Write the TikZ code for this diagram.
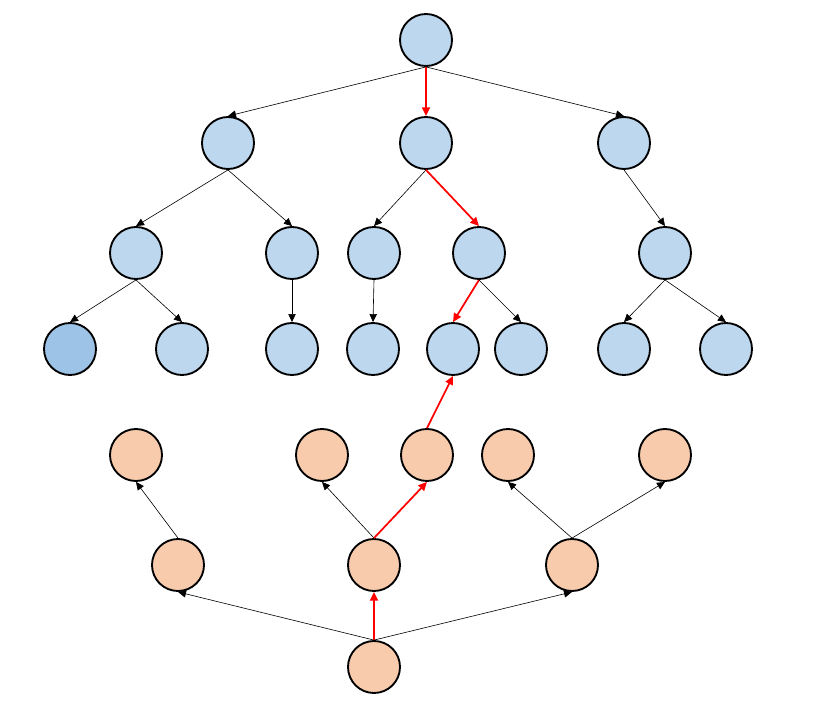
\documentclass[tikz,border=0pt]{standalone}
\usepackage{tikz}
\usetikzlibrary{arrows.meta, positioning}
\definecolor{treeblue}{RGB}{189, 215, 238}
\definecolor{leafblue}{RGB}{157, 195, 230}
\definecolor{treeorange}{RGB}{248, 203, 173}

\begin{document}
\begin{tikzpicture}[x=0.75pt, y=-0.75pt,
  bluenode/.style={circle, draw=black, line width=1.4pt, fill=treeblue, minimum size=39pt, inner sep=0pt},
  orangenode/.style={circle, draw=black, line width=1.4pt, fill=treeorange, minimum size=39pt, inner sep=0pt},
  thinarrow/.style={-{Triangle[width=5.5pt, length=6pt]}, line width=0.45pt, black},
  redarrow/.style={-{Triangle[width=6pt, length=6.5pt]}, line width=1.3pt, red}]
  \useasboundingbox (0,0) rectangle (827,720);

  % Upper tree
  \node[bluenode] (r) at (426, 40) {};
  \node[bluenode] (a) at (228, 143) {};
  \node[bluenode] (b) at (426, 143) {};
  \node[bluenode] (c) at (624, 143) {};
  \node[bluenode] (aa) at (136, 253) {};
  \node[bluenode] (ab) at (292, 253) {};
  \node[bluenode] (ba) at (374, 253) {};
  \node[bluenode] (bb) at (479, 253) {};
  \node[bluenode] (ca) at (665, 253) {};
  \node[bluenode, fill=leafblue] (aaa) at (70, 349) {};
  \node[bluenode] (aab) at (182, 349) {};
  \node[bluenode] (aba) at (292, 349) {};
  \node[bluenode] (baa) at (373, 349) {};
  \node[bluenode] (bba) at (453, 349) {};
  \node[bluenode] (bbb) at (521, 349) {};
  \node[bluenode] (caa) at (624, 349) {};
  \node[bluenode] (cab) at (726, 349) {};

  \draw[thinarrow] (r.south) -- (a.north);
  \draw[redarrow] (r.south) -- (b.north);
  \draw[thinarrow] (r.south) -- (c.north);
  \draw[thinarrow] (a.south) -- (aa.north);
  \draw[thinarrow] (a.south) -- (ab.north);
  \draw[thinarrow] (b.south) -- (ba.north);
  \draw[redarrow] (b.south) -- (bb.north);
  \draw[thinarrow] (c.south) -- (ca.north);
  \draw[thinarrow] (aa.south) -- (aaa.north);
  \draw[thinarrow] (aa.south) -- (aab.north);
  \draw[thinarrow] (ab.south) -- (aba.north);
  \draw[thinarrow] (ba.south) -- (baa.north);
  \draw[redarrow] (bb.south) -- (bba.north);
  \draw[thinarrow] (bb.south) -- (bbb.north);
  \draw[thinarrow] (ca.south) -- (caa.north);
  \draw[thinarrow] (ca.south) -- (cab.north);

  % Lower tree
  \node[orangenode] (s) at (374, 667) {};
  \node[orangenode] (p) at (178, 565) {};
  \node[orangenode] (q) at (374, 565) {};
  \node[orangenode] (t) at (572, 565) {};
  \node[orangenode] (pa) at (136, 455) {};
  \node[orangenode] (qa) at (322, 455) {};
  \node[orangenode] (qb) at (427, 455) {};
  \node[orangenode] (ta) at (508, 455) {};
  \node[orangenode] (tb) at (665, 455) {};

  \draw[thinarrow] (s.north) -- (p.south);
  \draw[redarrow] (s.north) -- (q.south);
  \draw[thinarrow] (s.north) -- (t.south);
  \draw[thinarrow] (p.north) -- (pa.south);
  \draw[thinarrow] (q.north) -- (qa.south);
  \draw[redarrow] (q.north) -- (qb.south);
  \draw[thinarrow] (t.north) -- (ta.south);
  \draw[thinarrow] (t.north) -- (tb.south);

  % Link between the trees
  \draw[redarrow] (qb.north) -- (bba.south);
\end{tikzpicture}
\end{document}
